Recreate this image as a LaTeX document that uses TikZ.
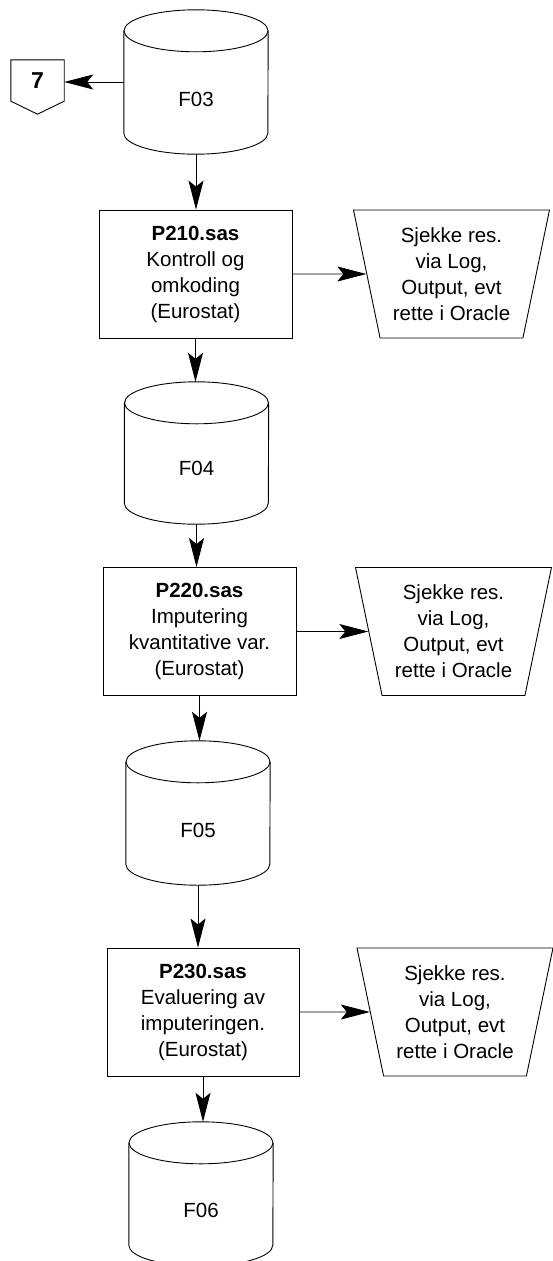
\documentclass[tikz,border=0pt]{standalone}
\usepackage{fontspec}
\setmainfont{Liberation Sans}
\usetikzlibrary{arrows.meta,calc,shapes.geometric}
\newcommand\drawcyl[1]{%
  \draw[line] ($(#1.north)+(0,-21)$) ellipse [x radius=72, y radius=21];
  \draw[line] ($(#1.north west)+(0,-21)$) -- ($(#1.south west)+(0,21)$)
    arc [start angle=180, end angle=360, x radius=72, y radius=21]
    -- ($(#1.north east)+(0,-21)$);}
\begin{document}
\begin{tikzpicture}[x=1pt,y=1pt,
  line/.style={line width=0.9pt},
  arr/.style={line, -{Stealth[length=29pt,width=15pt,inset=6pt]}},
  txt/.style={font=\fontsize{20.5}{26}\selectfont, align=center},
  procbox/.style={draw, line, rectangle, minimum width=193pt, minimum height=128pt, inner sep=0pt, txt},
  cylbox/.style={rectangle, minimum width=144pt, minimum height=144pt, inner sep=0pt},
  cyltext/.style={font=\fontsize{20.5}{26}\selectfont, inner sep=0pt},
  trapbox/.style={draw, line, trapezium, trapezium stretches=true, shape border rotate=180,
    trapezium left angle=76.8, trapezium right angle=76.8,
    minimum width=196pt, minimum height=128pt, inner sep=0pt, txt},
]
\fill[white] (0,0) rectangle (552,-1261);
\useasboundingbox (0,0) rectangle (552,-1261);

% cylinders
\node[cylbox] (f03) at (196,-82) {};
\node[cylbox, minimum height=142pt] (f04) at (196.5,-453) {};
\node[cylbox] (f05) at (198,-813) {};
\node[cylbox] (f06) at (201,-1194) {};
\drawcyl{f03}
\drawcyl{f04}
\drawcyl{f05}
\drawcyl{f06}
\node[cyltext] (f03t) at ([yshift=-17]f03.center) {F03};
\node[cyltext] (f04t) at ([yshift=-15]f04.center) {F04};
\node[cyltext] (f05t) at ([yshift=-17]f05.center) {F05};
\node[cyltext] (f06t) at ([yshift=-16]f06.center) {F06};

% off-page connector 7
\node[minimum width=53pt, minimum height=41pt, inner sep=0pt,
      font=\fontsize{23}{27}\selectfont\bfseries] (seven) at (37.5,-80.5) {7};
\draw[line] (seven.north west) -- (seven.north east) -- (seven.south east)
  -- ($(seven.south)+(0,-13)$) -- (seven.south west) -- cycle;

% process boxes
\node[procbox] (p210) at (195.5,-274) {\textbf{P210.sas}\\Kontroll og\\omkoding\\(Eurostat)};
\node[procbox] (p220) at (199.5,-631.5) {\textbf{P220.sas}\\Imputering\\kvantitative var.\\(Eurostat)};
\node[procbox, minimum width=192pt] (p230) at (203,-1012) {\textbf{P230.sas}\\Evaluering av\\imputeringen.\\(Eurostat)};

% manual check trapezoids
\node[trapbox] (t1) at (451.5,-274) {Sjekke res.\\via Log,\\Output, evt\\rette i Oracle};
\node[trapbox] (t2) at (453.5,-631.5) {Sjekke res.\\via Log,\\Output, evt\\rette i Oracle};
\node[trapbox] (t3) at (455,-1012) {Sjekke res.\\via Log,\\Output, evt\\rette i Oracle};

% connectors
\draw[arr] (f03.west) -- (f03.west -| seven.east);
\draw[arr] (f03.south) -- (f03.south |- p210.north);
\draw[arr] (p210.east) -- (t1);
\draw[arr] (p210.south) -- (p210.south |- f04.north);
\draw[arr] (f04.south) -- (f04.south |- p220.north);
\draw[arr] (p220.east) -- (t2);
\draw[arr] (p220.south) -- (p220.south |- f05.north);
\draw[arr] (f05.south) -- (f05.south |- p230.north);
\draw[arr] (p230.east) -- (t3);
\draw[arr] (p230.south) -- (p230.south |- f06.north);
\end{tikzpicture}
\end{document}
